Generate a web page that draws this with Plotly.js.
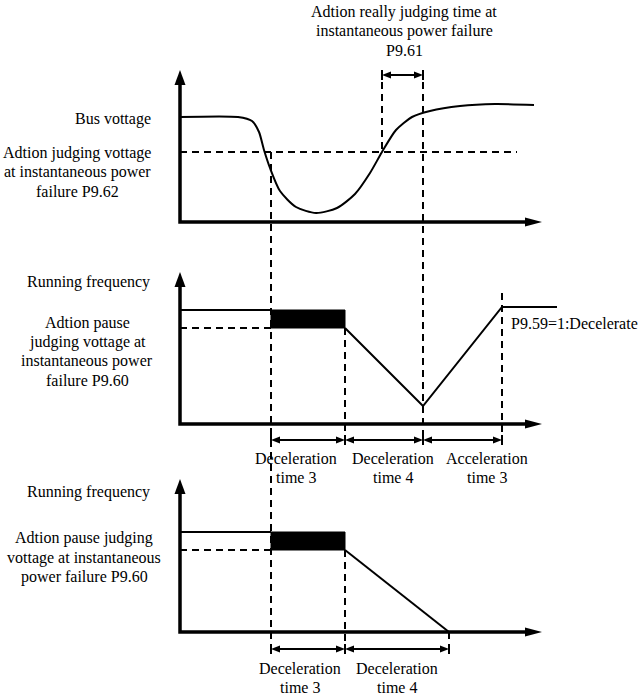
<!DOCTYPE html>
<html>
<head>
<meta charset="utf-8">
<script src="https://cdn.plot.ly/plotly-3.0.1.min.js"></script>
<style>body{margin:0;background:#fff}</style>
</head>
<body>
<div id="diagram" style="width:639px;height:697px"></div>
<script>
// everything is in pixel units of the original drawing (y grows downward)

// bus voltage curve (top panel)
var busX = [180, 238, 252, 259, 264, 270, 280, 296, 316, 337, 355, 370, 382, 396, 412, 430, 460, 495, 534];
var busY = [117, 117, 121, 132, 150, 168, 191, 207, 213, 208, 194, 173, 152, 130, 117, 111, 106, 104, 105];
var busJudgeLevel = 152;

// running frequency, middle panel (P9.59 = 1, decelerate then re-accelerate)
var freq2RunX = [180, 271];
var freq2RunY = [310, 310];
var freq2HoldX = [271, 345];
var freq2HoldY = [310, 328];
var freq2RampX = [345, 423, 502, 557];
var freq2RampY = [328, 406, 307, 307];

// running frequency, bottom panel (decelerate to stop)
var freq3RunX = [180, 271];
var freq3RunY = [532, 532];
var freq3HoldX = [271, 345];
var freq3HoldY = [532, 550];
var freq3RampX = [345, 449];
var freq3RampY = [550, 632];

// event times (vertical guides)
var tDrop = 271, tRecover = 382, tJudge = 423, tHoldEnd = 345, tAccEnd = 502, tStop = 449;

// axes of the three panels: top of y axis, level of x axis
var axisLeft = 180, axisRight = 542;
var axisTops = [70, 272, 479];
var axisBases = [222, 424, 632];

var titleLines = ['Adtion really judging time at', 'instantaneous power failure', 'P9.61'];
var busLabel = 'Bus vottage';
var busJudgeLines = ['Adtion judging vottage', 'at instantaneous power', 'failure P9.62'];
var freqLabel = 'Running frequency';
var pause2Lines = ['Adtion pause', 'judging vottage at', 'instantaneous power', 'failure P9.60'];
var pause3Lines = ['Adtion pause judging', 'vottage at instantaneous', 'power failure P9.60'];
var modeLabel = 'P9.59=1:Decelerate';
var span2Labels = [['Deceleration', 'time 3'], ['Deceleration', 'time 4'], ['Acceleration', 'time 3']];
var span3Labels = [['Deceleration', 'time 3'], ['Deceleration', 'time 4']];

var traces = [];
var shapes = [];
var notes = [];
var FONT = {family: 'Liberation Serif, Times New Roman, serif', size: 16, color: '#000'};
var DASH = '7px,5px';

function line(xs, ys, width, dash, smooth) {
    traces.push({
        x: xs, y: ys, type: 'scatter', mode: 'lines', hoverinfo: 'skip',
        line: {color: '#000', width: width, dash: dash || 'solid', shape: smooth ? 'spline' : 'linear', smoothing: 0.7}
    });
}

function box(xs, ys) {
    traces.push({
        x: [xs[0], xs[1], xs[1], xs[0], xs[0]], y: [ys[0], ys[0], ys[1], ys[1], ys[0]],
        type: 'scatter', mode: 'lines', fill: 'toself', fillcolor: '#000',
        line: {color: '#000', width: 1}, hoverinfo: 'skip'
    });
}

// filled triangle head, tip at (x, y), pointing along (dx, dy)
function head(x, y, dx, dy, len, half) {
    var bx = x - dx * len, by = y - dy * len;
    var px = -dy * half, py = dx * half;
    shapes.push({
        type: 'path', xref: 'x', yref: 'y', fillcolor: '#000', line: {width: 0},
        path: 'M' + x + ',' + y + ' L' + (bx + px) + ',' + (by + py) + ' L' + (bx - px) + ',' + (by - py) + ' Z'
    });
}

function span(x0, x1, y) {
    line([x0 + 4, x1 - 4], [y, y], 2);
    head(x0, y, -1, 0, 9, 3.5);
    head(x1, y, 1, 0, 9, 3.5);
    line([x0, x0], [y - 5, y + 5], 2);
    line([x1, x1], [y - 5, y + 5], 2);
}

function text(str, x, y, anchor) {
    notes.push({text: str, x: x, y: y, xref: 'x', yref: 'y', showarrow: false,
        xanchor: anchor || 'center', yanchor: 'middle', font: FONT});
}

function block(lines, x, y0, step, anchor) {
    for (var i = 0; i < lines.length; i++) text(lines[i], x, y0 + i * step, anchor);
}

// axes
for (var p = 0; p < 3; p++) {
    line([axisLeft, axisLeft, axisRight - 10], [axisTops[p] + 10, axisBases[p], axisBases[p]], 3.5);
    head(axisLeft, axisTops[p], 0, -1, 15, 5.5);
    head(axisRight, axisBases[p], 1, 0, 17, 4.5);
}

// dashed reference levels
line([axisLeft, 517], [busJudgeLevel, busJudgeLevel], 2, DASH);
line([axisLeft, tDrop], [freq2HoldY[1], freq2HoldY[1]], 2, DASH);
line([axisLeft, tDrop], [freq3HoldY[1], freq3HoldY[1]], 2, DASH);

// dashed time guides
line([tDrop, tDrop], [busJudgeLevel, 652], 2, DASH);
line([tRecover, tRecover], [70, busJudgeLevel], 2, DASH);
line([tJudge, tJudge], [70, 445], 2, DASH);
line([tHoldEnd, tHoldEnd], [freq2HoldY[1], 445], 2, DASH);
line([tAccEnd, tAccEnd], [293, 445], 2, DASH);
line([tHoldEnd, tHoldEnd], [freq3HoldY[1], 652], 2, DASH);
line([tStop, tStop], [axisBases[2], 652], 2, DASH);

// signals
line(busX, busY, 2, null, true);
line(freq2RunX, freq2RunY, 2);
box(freq2HoldX, freq2HoldY);
line(freq2RampX, freq2RampY, 2);
line(freq3RunX, freq3RunY, 2);
box(freq3HoldX, freq3HoldY);
line(freq3RampX, freq3RampY, 2);

// time spans
span(tRecover, tJudge, 75);
span(tDrop, tHoldEnd, 440);
span(tHoldEnd, tJudge, 440);
span(tJudge, tAccEnd, 440);
span(tDrop, tHoldEnd, 649);
span(tHoldEnd, tStop, 649);

// labels
block(titleLines, 404, 12, 19);
text(busLabel, 153, 119, 'right');
block(busJudgeLines, 77, 153, 19);
text(freqLabel, 152, 282, 'right');
block(pause2Lines, 87, 323, 19.2);
text(modeLabel, 509, 323, 'left');
var c2 = [296, 393, 487];
for (var i = 0; i < span2Labels.length; i++) block(span2Labels[i], c2[i], 458, 19);
text(freqLabel, 152, 492, 'right');
block(pause3Lines, 84, 538, 19.5);
var c3 = [300, 397];
for (var j = 0; j < span3Labels.length; j++) block(span3Labels[j], c3[j], 668, 19);

var layout = {
    width: 639, height: 697,
    margin: {l: 0, r: 0, t: 0, b: 0},
    paper_bgcolor: '#fff', plot_bgcolor: '#fff',
    showlegend: false,
    xaxis: {range: [0, 639], visible: false, fixedrange: true},
    yaxis: {range: [697, 0], visible: false, fixedrange: true},
    shapes: shapes,
    annotations: notes
};

Plotly.newPlot('diagram', traces, layout, {staticPlot: true, displayModeBar: false});
</script>
</body>
</html>
